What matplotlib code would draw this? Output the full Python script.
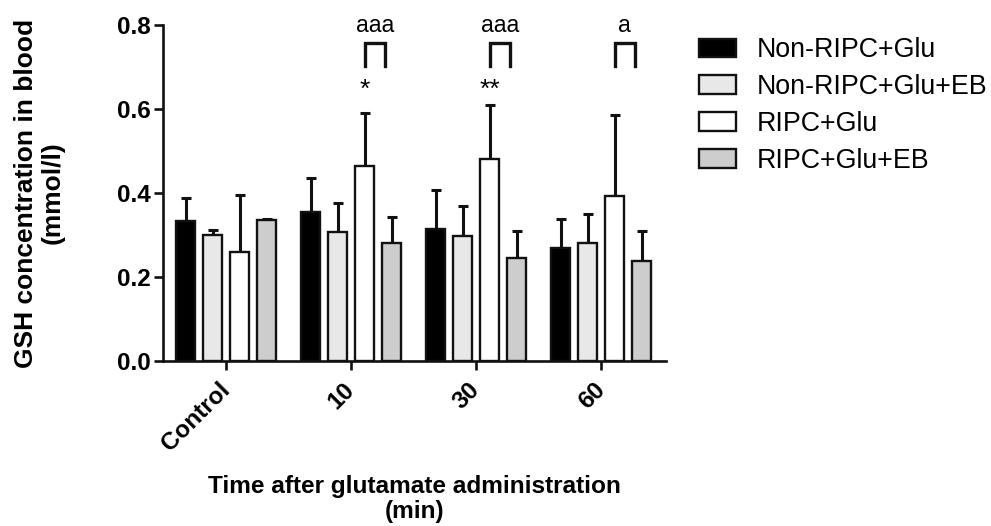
import matplotlib
matplotlib.use("Agg")
import matplotlib.pyplot as plt
import numpy as np

plt.rcParams['font.family'] = ['Liberation Sans', 'DejaVu Sans']

categories = ["Control", "10", "30", "60"]
series_names = ["Non-RIPC+Glu", "Non-RIPC+Glu+EB", "RIPC+Glu", "RIPC+Glu+EB"]
non_ripc_glu = [0.334, 0.355, 0.315, 0.270]
non_ripc_glu_eb = [0.301, 0.307, 0.297, 0.280]
ripc_glu = [0.260, 0.464, 0.480, 0.392]
ripc_glu_eb = [0.335, 0.280, 0.245, 0.238]
err_non_ripc_glu = [0.053, 0.080, 0.092, 0.069]
err_non_ripc_glu_eb = [0.010, 0.070, 0.072, 0.069]
err_ripc_glu = [0.135, 0.127, 0.129, 0.193]
err_ripc_glu_eb = [0.003, 0.062, 0.065, 0.072]
star_labels = ["", "*", "**", ""]
a_labels = ["", "aaa", "aaa", "a"]

values = [non_ripc_glu, non_ripc_glu_eb, ripc_glu, ripc_glu_eb]
errors = [err_non_ripc_glu, err_non_ripc_glu_eb, err_ripc_glu, err_ripc_glu_eb]
colors = ["#000000", "#e8e8e8", "#ffffff", "#cdcdcd"]

W, H = 991, 526
fig = plt.figure(figsize=(W / 100, H / 100), dpi=100)
ax = fig.add_axes([163 / W, 1 - 361 / H, 503 / W, 336 / H])

x = np.arange(len(categories))
step = 0.216
width = 0.152
for i, (vals, errs, c, name) in enumerate(zip(values, errors, colors, series_names)):
    pos = x + (i - 1.5) * step
    ax.bar(pos, vals, width, color=c, edgecolor="#111111", linewidth=1.7, label=name, zorder=3)
    ax.errorbar(pos, vals, yerr=[np.zeros(len(vals)), errs], fmt="none",
                ecolor="#111111", elinewidth=2.2, capsize=3.6, capthick=2.2, zorder=2)

# annotations
for j in range(len(categories)):
    wx = x[j] + 0.5 * step
    if star_labels[j]:
        ax.text(wx, 0.645, star_labels[j], ha="center", va="center", fontsize=19, clip_on=False)
    if a_labels[j]:
        bx0 = wx
        bx1 = wx + 0.16
        ax.plot([bx0, bx0, bx1, bx1], [0.703, 0.756, 0.756, 0.703], color="#111111",
                linewidth=2.4, clip_on=False, solid_joinstyle="miter")
        ax.text((bx0 + bx1) / 2, 0.800, a_labels[j], ha="center", va="center",
                fontsize=16.5, clip_on=False)

ax.set_xlim(-0.506, 3.518)
ax.set_ylim(0, 0.8)
ax.set_yticks([0.0, 0.2, 0.4, 0.6, 0.8])
ax.set_yticklabels(["0.0", "0.2", "0.4", "0.6", "0.8"], fontsize=17.5, fontweight="bold")
ax.set_xticks(x)
ax.set_xticklabels(categories, rotation=45, ha="right", va="center", rotation_mode="anchor",
                   fontsize=17.5, fontweight="bold")
ax.spines["top"].set_visible(False)
ax.spines["right"].set_visible(False)
for s in ["left", "bottom"]:
    ax.spines[s].set_linewidth(1.9)
    ax.spines[s].set_color("#111111")
ax.tick_params(axis="y", width=1.9, length=6.5, color="#111111", pad=2)
ax.tick_params(axis="x", width=1.9, length=6.5, color="#111111", pad=12)

ax.set_ylabel("GSH concentration in blood\n(mmol/l)", fontsize=19, fontweight="bold",
              linespacing=1.15)
ax.yaxis.set_label_coords(-(163 - 65) / 503, 0.5)
ax.set_xlabel("Time after glutamate administration\n(min)", fontsize=17.6, fontweight="bold",
              linespacing=1.1)
ax.xaxis.set_label_coords(0.5, -0.34)

leg = ax.legend(loc="upper left", bbox_to_anchor=(688 / W, 1 - 26.7 / H),
                bbox_transform=fig.transFigure, frameon=False, fontsize=19.3,
                handlelength=1.4, handleheight=0.7, handletextpad=0.75, labelspacing=0.4,
                borderaxespad=0)

fig.savefig("out.png", dpi=100)
